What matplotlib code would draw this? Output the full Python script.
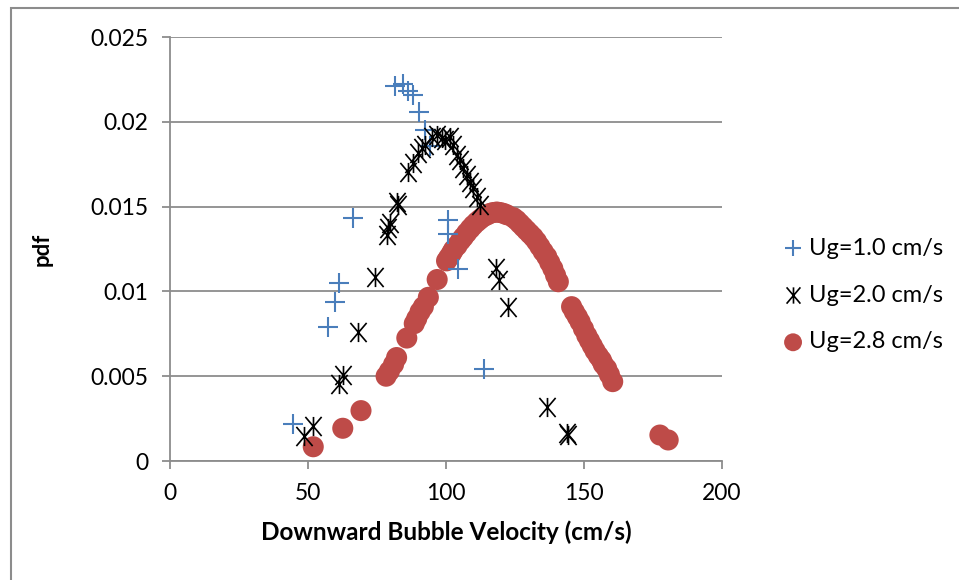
import matplotlib.pyplot as plt
from matplotlib.patches import Rectangle
from matplotlib.path import Path

# Ug = 1.0 cm/s
x_ug10 = [44.5, 57.4, 59.8, 61.3, 66.4, 81.5, 84.5, 86.4, 88.2, 90.3, 92.4, 94.2,
          100.6, 100.8, 104.5, 113.8]
y_ug10 = [0.0022, 0.0079, 0.0094, 0.0105, 0.0143, 0.0221, 0.0222, 0.0218, 0.0216,
          0.0206, 0.0195, 0.0186, 0.0142, 0.0134, 0.0113, 0.0054]

# Ug = 2.0 cm/s
x_ug20 = [48.6, 51.9, 61.3, 62.6, 68.2, 74.3, 78.5, 79.1, 79.7, 82.1, 82.7, 86.4,
          88.2, 90.0, 91.2, 92.4, 94.8, 96.6, 98.4, 99.6, 101.4, 102.7, 103.9, 105.1,
          106.3, 107.5, 108.7, 109.9, 111.1, 112.3, 118.1, 119.3, 122.3, 136.5,
          143.7, 144.3]
y_ug20 = [0.00147, 0.00206, 0.00454, 0.00507, 0.00762, 0.01087, 0.01333, 0.01372,
          0.01401, 0.0153, 0.0151, 0.01706, 0.01755, 0.01814, 0.01844, 0.01863,
          0.01912, 0.01922, 0.01903, 0.01893, 0.01912, 0.01863, 0.01804, 0.01775,
          0.01726, 0.01686, 0.01647, 0.01608, 0.01558, 0.01509, 0.01136, 0.01067,
          0.0091, 0.0032, 0.00163, 0.00153]

# Ug = 2.8 cm/s
x_ug28 = [51.9, 62.6, 69.2, 78.3, 79.5, 81.0, 82.1, 85.8, 88.5, 89.4, 90.6, 91.8,
          93.6, 96.8, 100.2, 101.0, 102.0, 102.7, 104.0, 105.3, 106.3, 107.5, 108.8,
          109.9, 111.2, 112.3, 113.5, 114.8, 116.0, 117.1, 118.4, 119.6, 120.8, 122.0,
          124.4, 125.6, 126.8, 128.0, 129.2, 130.4, 131.6, 132.8, 134.0, 135.2, 136.5,
          137.6, 138.7, 139.7, 140.7, 145.5, 146.5, 147.6, 148.6, 149.8, 151.0, 152.0,
          153.0, 154.0, 155.2, 156.3, 157.0, 158.2, 159.2, 160.4, 177.5, 180.5]
y_ug28 = [0.00084, 0.00193, 0.00297, 0.00500, 0.00530, 0.00570, 0.00610, 0.00725,
          0.00810, 0.00840, 0.00880, 0.00910, 0.00965, 0.01070, 0.01180, 0.01200,
          0.01225, 0.01245, 0.01270, 0.01300, 0.01320, 0.01345, 0.01370, 0.01390,
          0.01410, 0.01425, 0.01440, 0.01450, 0.01460, 0.01465, 0.01468, 0.01465,
          0.01460, 0.01452, 0.01435, 0.01420, 0.01400, 0.01380, 0.01360, 0.01340,
          0.01320, 0.01295, 0.01265, 0.01235, 0.01205, 0.01170, 0.01135, 0.01095,
          0.01057, 0.00910, 0.00880, 0.00850, 0.00820, 0.00780, 0.00740, 0.00710,
          0.00680, 0.00650, 0.00620, 0.00595, 0.00570, 0.00545, 0.00510, 0.00468,
          0.00153, 0.00124]

x_ticks = [0, 50, 100, 150, 200]
y_ticks = [0, 0.005, 0.01, 0.015, 0.02, 0.025]
y_ticklabels = ['0', '0.005', '0.01', '0.015', '0.02', '0.025']

plt.rcParams['font.family'] = ['Lato', 'DejaVu Sans']

# Excel style star: vertical bar plus an X
star = Path([(0, -1), (0, 1), (-0.85, -1), (0.85, 1), (-0.85, 1), (0.85, -1)],
            [Path.MOVETO, Path.LINETO] * 3)

fig = plt.figure(figsize=(9.59, 5.8), dpi=100)
ax = fig.add_axes([170 / 959, 1 - 461 / 580, 552 / 959, 424 / 580])

# chart frame
fig.patches.append(Rectangle((11 / 959, -0.1), 1.2, 1 - 8 / 580 + 0.1,
                             transform=fig.transFigure, fill=False,
                             edgecolor='#8c8c8c', linewidth=1.5))

ax.scatter(x_ug10, y_ug10, marker='+', s=190, color='#4a7ebb', linewidths=1.5,
           label='Ug=1.0 cm/s', zorder=3)
ax.scatter(x_ug20, y_ug20, marker=star, s=190, color='black', linewidths=1.2,
           label='Ug=2.0 cm/s', zorder=4)
ax.scatter(x_ug28, y_ug28, marker='o', s=230, color='#be4b48', edgecolors='none',
           label='Ug=2.8 cm/s', zorder=2)

ax.set_xlim(0, 200)
ax.set_ylim(0, 0.025)
ax.set_xticks(x_ticks)
ax.set_yticks(y_ticks)
ax.set_yticklabels(y_ticklabels)
ax.tick_params(labelsize=16.5, length=5.5, width=1.3, color='#8c8c8c', pad=10)
ax.grid(axis='y', color='#8c8c8c', linewidth=1.3)
ax.set_axisbelow(True)
for side in ['top', 'right']:
    ax.spines[side].set_visible(False)
for side in ['left', 'bottom']:
    ax.spines[side].set_color('#8c8c8c')
    ax.spines[side].set_linewidth(1.3)

ax.set_xlabel('Downward Bubble Velocity (cm/s)', fontsize=17.5, fontweight='bold',
              labelpad=12)
ax.set_ylabel('pdf', fontsize=16, fontweight='bold', labelpad=27)

ax.legend(loc='center left', bbox_to_anchor=(783.6 / 959, 1 - 295 / 580),
          bbox_transform=fig.transFigure, frameon=False, fontsize=17,
          handlelength=0.8, handletextpad=0.28, labelspacing=1.1,
          markerscale=0.85, borderaxespad=0, borderpad=0)

fig.savefig('out.png', dpi=100)
